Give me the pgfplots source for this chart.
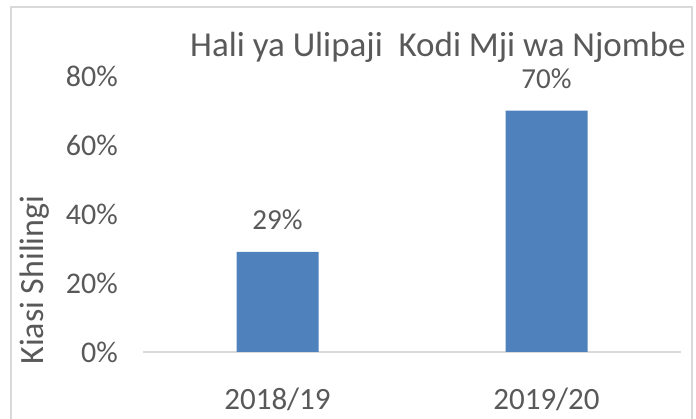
\documentclass[border=0pt]{standalone}
\usepackage{fontspec}
\setmainfont{Carlito}
\usepackage{pgfplots}
\pgfplotsset{compat=1.18}
\definecolor{barblue}{HTML}{4F81BD}
\definecolor{txtgray}{HTML}{595959}
\definecolor{linegray}{HTML}{D9D9D9}

\begin{document}
\begin{tikzpicture}[x=1pt,y=1pt]
    \useasboundingbox (0,0) rectangle (696,419);
    % chart frame (bottom edge is cut off in the reference)
    \draw[linegray, line width=1.2pt] (11,-2) -- (11,412) -- (692,412) -- (692,-2);
    \node[anchor=base, text=txtgray, font=\fontsize{35}{41}\selectfont] at (438,362)
        {Hali ya Ulipaji\ \ Kodi Mji wa Njombe};
    \node[anchor=base, rotate=90, text=txtgray, font=\fontsize{34}{40}\selectfont] at (43,139)
        {Kiasi Shilingi};
    \begin{axis}[
        at={(143pt,67pt)}, anchor=south west,
        scale only axis,
        width=538pt, height=276pt,
        ybar, bar width=82pt,
        xmin=-0.5, xmax=1.5,
        ymin=0, ymax=80,
        xtick={0,1}, xticklabels={2018/19,2019/20},
        ytick={0,20,40,60,80},
        yticklabel={\pgfmathprintnumber{\tick}\%},
        /pgf/number format/assume math mode=true,
        axis line style={draw=none},
        major tick length=0pt,
        tick style={draw=none},
        clip=false,
        yticklabel style={anchor=east, inner sep=0pt, xshift=-25pt,
            text=txtgray, font=\fontsize{30}{36}\selectfont},
        xticklabel style={anchor=north, inner sep=0pt, yshift=-36pt,
            text=txtgray, font=\fontsize{31}{37}\selectfont},
        nodes near coords={\pgfmathprintnumber{\pgfplotspointmeta}\%},
        every node near coord/.append style={anchor=base, inner sep=0pt,
            yshift=22pt, text=txtgray, font=\fontsize{29}{35}\selectfont},
    ]
        \draw[linegray, line width=1.2pt] (axis cs:-0.5,0) -- (axis cs:1.5,0);
        \addplot[fill=barblue, draw=none] coordinates {(0,29) (1,70)};
    \end{axis}
\end{tikzpicture}
\end{document}
